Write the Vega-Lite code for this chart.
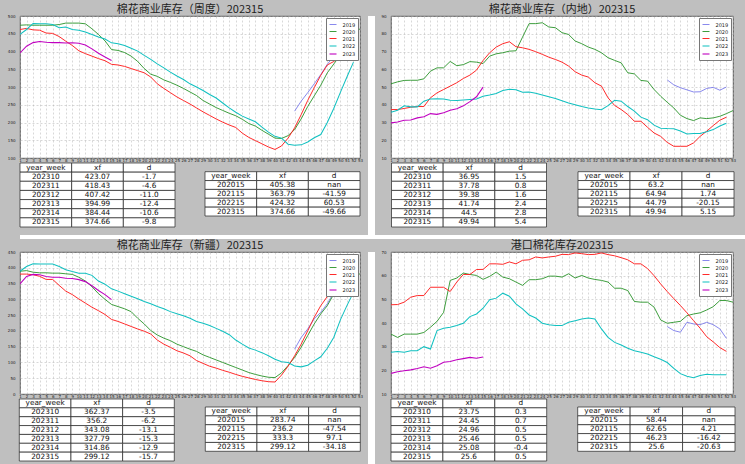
{
"$schema": "https://vega.github.io/schema/vega-lite/v6.json",
"background": "#bfbfbf",
"padding": {"left": 6, "top": 3, "right": 0, "bottom": 0},
"spacing": 0,
"resolve": {"scale": {"color": "independent", "strokeWidth": "independent"}, "legend": {"color": "independent", "strokeWidth": "independent"}},
"config": {
  "view": {"stroke": null},
  "font": "DejaVu Sans",
  "legend": {"orient": "top-right", "offset": 2, "fillColor": "white", "strokeColor": "#777", "padding": 2.5, "labelFontSize": 5, "labelFont": "DejaVu Sans", "labelColor": "#222", "symbolType": "stroke", "symbolSize": 49, "rowPadding": -1.5, "labelOffset": 5, "title": null, "cornerRadius": 0},
  "axis": {"labelFont": "DejaVu Sans", "labelFontSize": 4, "labelColor": "#222", "ticks": false, "domain": false, "grid": true, "gridColor": "#b0b0b0", "gridDash": [2, 2], "gridWidth": 0.5, "title": null, "labelOverlap": false, "labelFlush": false, "labelBound": false},
  "axisX": {"labelPadding": 0.5, "labelAngle": 0},
  "axisY": {"labelPadding": 5},
  "title": {"font": "Noto Sans CJK SC", "fontSize": 11, "fontWeight": "normal", "color": "#222", "offset": -1, "anchor": "middle", "frame": "group"}
},
"datasets": {
"d1": [
{"s":"2019","w":43,"v":232},{"s":"2019","w":44,"v":260},{"s":"2019","w":45,"v":284},{"s":"2019","w":46,"v":309},{"s":"2019","w":47,"v":335},{"s":"2019","w":48,"v":364},{"s":"2019","w":49,"v":387},{"s":"2019","w":50,"v":405},{"s":"2019","w":51,"v":420},{"s":"2019","w":52,"v":432},
{"s":"2020","w":1,"v":474},{"s":"2020","w":2,"v":475},{"s":"2020","w":3,"v":474},{"s":"2020","w":4,"v":474},{"s":"2020","w":5,"v":474},{"s":"2020","w":6,"v":474},{"s":"2020","w":7,"v":476},{"s":"2020","w":8,"v":480},{"s":"2020","w":9,"v":480},{"s":"2020","w":10,"v":480},{"s":"2020","w":11,"v":478},{"s":"2020","w":12,"v":464},{"s":"2020","w":13,"v":448},{"s":"2020","w":14,"v":430},{"s":"2020","w":15,"v":405.38},{"s":"2020","w":16,"v":403},{"s":"2020","w":17,"v":397},{"s":"2020","w":18,"v":387},{"s":"2020","w":19,"v":372},{"s":"2020","w":20,"v":352},{"s":"2020","w":21,"v":336},{"s":"2020","w":22,"v":330},{"s":"2020","w":23,"v":320},{"s":"2020","w":24,"v":313},{"s":"2020","w":25,"v":305},{"s":"2020","w":26,"v":296},{"s":"2020","w":27,"v":286},{"s":"2020","w":28,"v":276},{"s":"2020","w":29,"v":262},{"s":"2020","w":30,"v":252},{"s":"2020","w":31,"v":242},{"s":"2020","w":32,"v":234},{"s":"2020","w":33,"v":226},{"s":"2020","w":34,"v":219},{"s":"2020","w":35,"v":209},{"s":"2020","w":36,"v":197},{"s":"2020","w":37,"v":190},{"s":"2020","w":38,"v":178},{"s":"2020","w":39,"v":167},{"s":"2020","w":40,"v":156},{"s":"2020","w":41,"v":155},{"s":"2020","w":42,"v":163},{"s":"2020","w":43,"v":180},{"s":"2020","w":44,"v":210},{"s":"2020","w":45,"v":245},{"s":"2020","w":46,"v":275},{"s":"2020","w":47,"v":305},{"s":"2020","w":48,"v":340},{"s":"2020","w":49,"v":365},{"s":"2020","w":50,"v":390},{"s":"2020","w":51,"v":420},{"s":"2020","w":52,"v":448},{"s":"2020","w":53,"v":464},
{"s":"2021","w":1,"v":462},{"s":"2021","w":2,"v":465},{"s":"2021","w":3,"v":461},{"s":"2021","w":4,"v":460},{"s":"2021","w":5,"v":452},{"s":"2021","w":6,"v":451},{"s":"2021","w":7,"v":442},{"s":"2021","w":8,"v":429},{"s":"2021","w":9,"v":417},{"s":"2021","w":10,"v":402},{"s":"2021","w":11,"v":394},{"s":"2021","w":12,"v":387},{"s":"2021","w":13,"v":380},{"s":"2021","w":14,"v":374},{"s":"2021","w":15,"v":363.79},{"s":"2021","w":16,"v":362},{"s":"2021","w":17,"v":358},{"s":"2021","w":18,"v":352},{"s":"2021","w":19,"v":346},{"s":"2021","w":20,"v":340},{"s":"2021","w":21,"v":328},{"s":"2021","w":22,"v":309},{"s":"2021","w":23,"v":296},{"s":"2021","w":24,"v":284},{"s":"2021","w":25,"v":272},{"s":"2021","w":26,"v":262},{"s":"2021","w":27,"v":252},{"s":"2021","w":28,"v":241},{"s":"2021","w":29,"v":230},{"s":"2021","w":30,"v":220},{"s":"2021","w":31,"v":210},{"s":"2021","w":32,"v":201},{"s":"2021","w":33,"v":193},{"s":"2021","w":34,"v":186},{"s":"2021","w":35,"v":170},{"s":"2021","w":36,"v":158},{"s":"2021","w":37,"v":149},{"s":"2021","w":38,"v":140},{"s":"2021","w":39,"v":131},{"s":"2021","w":40,"v":124},{"s":"2021","w":41,"v":134},{"s":"2021","w":42,"v":156},{"s":"2021","w":43,"v":185},{"s":"2021","w":44,"v":222},{"s":"2021","w":45,"v":262},{"s":"2021","w":46,"v":298},{"s":"2021","w":47,"v":333},{"s":"2021","w":48,"v":362},{"s":"2021","w":49,"v":372},{"s":"2021","w":50,"v":390},{"s":"2021","w":51,"v":420},{"s":"2021","w":52,"v":445},
{"s":"2022","w":1,"v":448},{"s":"2022","w":2,"v":462},{"s":"2022","w":3,"v":479},{"s":"2022","w":4,"v":478},{"s":"2022","w":5,"v":478},{"s":"2022","w":6,"v":476},{"s":"2022","w":7,"v":467},{"s":"2022","w":8,"v":469},{"s":"2022","w":9,"v":462},{"s":"2022","w":10,"v":460},{"s":"2022","w":11,"v":455},{"s":"2022","w":12,"v":448},{"s":"2022","w":13,"v":441},{"s":"2022","w":14,"v":435},{"s":"2022","w":15,"v":424.32},{"s":"2022","w":16,"v":422},{"s":"2022","w":17,"v":417},{"s":"2022","w":18,"v":409},{"s":"2022","w":19,"v":401},{"s":"2022","w":20,"v":389},{"s":"2022","w":21,"v":378},{"s":"2022","w":22,"v":365},{"s":"2022","w":23,"v":354},{"s":"2022","w":24,"v":342},{"s":"2022","w":25,"v":331},{"s":"2022","w":26,"v":321},{"s":"2022","w":27,"v":309},{"s":"2022","w":28,"v":300},{"s":"2022","w":29,"v":290},{"s":"2022","w":30,"v":279},{"s":"2022","w":31,"v":269},{"s":"2022","w":32,"v":255},{"s":"2022","w":33,"v":241},{"s":"2022","w":34,"v":229},{"s":"2022","w":35,"v":218},{"s":"2022","w":36,"v":210},{"s":"2022","w":37,"v":202},{"s":"2022","w":38,"v":187},{"s":"2022","w":39,"v":173},{"s":"2022","w":40,"v":161},{"s":"2022","w":41,"v":156},{"s":"2022","w":42,"v":139},{"s":"2022","w":43,"v":136},{"s":"2022","w":44,"v":137},{"s":"2022","w":45,"v":145},{"s":"2022","w":46,"v":157},{"s":"2022","w":47,"v":166},{"s":"2022","w":48,"v":200},{"s":"2022","w":49,"v":240},{"s":"2022","w":50,"v":285},{"s":"2022","w":51,"v":328},{"s":"2022","w":52,"v":370},
{"s":"2023","w":1,"v":396},{"s":"2023","w":2,"v":415},{"s":"2023","w":3,"v":425},{"s":"2023","w":4,"v":428},{"s":"2023","w":5,"v":426},{"s":"2023","w":6,"v":425},{"s":"2023","w":7,"v":425},{"s":"2023","w":8,"v":424},{"s":"2023","w":9,"v":424.77},{"s":"2023","w":10,"v":423.07},{"s":"2023","w":11,"v":418.43},{"s":"2023","w":12,"v":407.42},{"s":"2023","w":13,"v":394.99},{"s":"2023","w":14,"v":384.44},{"s":"2023","w":15,"v":374.66}
],
"d2": [
{"s":"2019","w":43,"v":54},{"s":"2019","w":44,"v":51.2},{"s":"2019","w":45,"v":49.6},{"s":"2019","w":46,"v":48.4},{"s":"2019","w":47,"v":47.2},{"s":"2019","w":48,"v":47.3},{"s":"2019","w":49,"v":49.2},{"s":"2019","w":50,"v":49.8},{"s":"2019","w":51,"v":48.2},{"s":"2019","w":52,"v":50},
{"s":"2020","w":1,"v":51.8},{"s":"2020","w":2,"v":52.9},{"s":"2020","w":3,"v":53.7},{"s":"2020","w":4,"v":53.8},{"s":"2020","w":5,"v":53.8},{"s":"2020","w":6,"v":54.6},{"s":"2020","w":7,"v":58.9},{"s":"2020","w":8,"v":60.8},{"s":"2020","w":9,"v":60.8},{"s":"2020","w":10,"v":64.4},{"s":"2020","w":11,"v":62},{"s":"2020","w":12,"v":62.6},{"s":"2020","w":13,"v":64.3},{"s":"2020","w":14,"v":64},{"s":"2020","w":15,"v":63.2},{"s":"2020","w":16,"v":67.4},{"s":"2020","w":17,"v":68.7},{"s":"2020","w":18,"v":69.3},{"s":"2020","w":19,"v":70.2},{"s":"2020","w":20,"v":70.4},{"s":"2020","w":21,"v":78.1},{"s":"2020","w":22,"v":85.7},{"s":"2020","w":23,"v":85.7},{"s":"2020","w":24,"v":86.2},{"s":"2020","w":25,"v":83.8},{"s":"2020","w":26,"v":83.4},{"s":"2020","w":27,"v":80.6},{"s":"2020","w":28,"v":79.6},{"s":"2020","w":29,"v":75.9},{"s":"2020","w":30,"v":74.4},{"s":"2020","w":31,"v":72.5},{"s":"2020","w":32,"v":71.2},{"s":"2020","w":33,"v":69.3},{"s":"2020","w":34,"v":66.5},{"s":"2020","w":35,"v":65},{"s":"2020","w":36,"v":63.6},{"s":"2020","w":37,"v":58},{"s":"2020","w":38,"v":57.4},{"s":"2020","w":39,"v":53.7},{"s":"2020","w":40,"v":53.3},{"s":"2020","w":41,"v":48.6},{"s":"2020","w":42,"v":44.8},{"s":"2020","w":43,"v":41.4},{"s":"2020","w":44,"v":38.2},{"s":"2020","w":45,"v":34.1},{"s":"2020","w":46,"v":32.2},{"s":"2020","w":47,"v":31.1},{"s":"2020","w":48,"v":32.6},{"s":"2020","w":49,"v":32.2},{"s":"2020","w":50,"v":32.6},{"s":"2020","w":51,"v":33.5},{"s":"2020","w":52,"v":35},{"s":"2020","w":53,"v":36.7},
{"s":"2021","w":1,"v":37.3},{"s":"2021","w":2,"v":37.3},{"s":"2021","w":3,"v":37.9},{"s":"2021","w":4,"v":38.6},{"s":"2021","w":5,"v":39},{"s":"2021","w":6,"v":39},{"s":"2021","w":7,"v":43.9},{"s":"2021","w":8,"v":46.7},{"s":"2021","w":9,"v":48.6},{"s":"2021","w":10,"v":50.5},{"s":"2021","w":11,"v":52.4},{"s":"2021","w":12,"v":54.8},{"s":"2021","w":13,"v":56.7},{"s":"2021","w":14,"v":59.5},{"s":"2021","w":15,"v":64.94},{"s":"2021","w":16,"v":69.3},{"s":"2021","w":17,"v":72.5},{"s":"2021","w":18,"v":74.4},{"s":"2021","w":19,"v":75.5},{"s":"2021","w":20,"v":72.7},{"s":"2021","w":21,"v":72.1},{"s":"2021","w":22,"v":71.2},{"s":"2021","w":23,"v":69.9},{"s":"2021","w":24,"v":68.4},{"s":"2021","w":25,"v":66.8},{"s":"2021","w":26,"v":65.5},{"s":"2021","w":27,"v":64},{"s":"2021","w":28,"v":61.8},{"s":"2021","w":29,"v":58.6},{"s":"2021","w":30,"v":56.7},{"s":"2021","w":31,"v":55.6},{"s":"2021","w":32,"v":52.4},{"s":"2021","w":33,"v":50.5},{"s":"2021","w":34,"v":43.9},{"s":"2021","w":35,"v":39.6},{"s":"2021","w":36,"v":37.3},{"s":"2021","w":37,"v":34.5},{"s":"2021","w":38,"v":30.7},{"s":"2021","w":39,"v":30.7},{"s":"2021","w":40,"v":27.3},{"s":"2021","w":41,"v":24.1},{"s":"2021","w":42,"v":22.2},{"s":"2021","w":43,"v":18.8},{"s":"2021","w":44,"v":16.6},{"s":"2021","w":45,"v":16.6},{"s":"2021","w":46,"v":16.6},{"s":"2021","w":47,"v":18.5},{"s":"2021","w":48,"v":22.2},{"s":"2021","w":49,"v":25.1},{"s":"2021","w":50,"v":28.3},{"s":"2021","w":51,"v":31.3},{"s":"2021","w":52,"v":33},
{"s":"2022","w":1,"v":35.8},{"s":"2022","w":2,"v":36.9},{"s":"2022","w":3,"v":39.4},{"s":"2022","w":4,"v":38.8},{"s":"2022","w":5,"v":38.8},{"s":"2022","w":6,"v":42},{"s":"2022","w":7,"v":43.3},{"s":"2022","w":8,"v":43.4},{"s":"2022","w":9,"v":43.3},{"s":"2022","w":10,"v":42.5},{"s":"2022","w":11,"v":42.4},{"s":"2022","w":12,"v":42.7},{"s":"2022","w":13,"v":43},{"s":"2022","w":14,"v":43.2},{"s":"2022","w":15,"v":44.79},{"s":"2022","w":16,"v":45.5},{"s":"2022","w":17,"v":46.3},{"s":"2022","w":18,"v":48},{"s":"2022","w":19,"v":48.7},{"s":"2022","w":20,"v":48.5},{"s":"2022","w":21,"v":47},{"s":"2022","w":22,"v":47.2},{"s":"2022","w":23,"v":46.5},{"s":"2022","w":24,"v":45.5},{"s":"2022","w":25,"v":44.5},{"s":"2022","w":26,"v":43.5},{"s":"2022","w":27,"v":42.3},{"s":"2022","w":28,"v":41},{"s":"2022","w":29,"v":40},{"s":"2022","w":30,"v":39},{"s":"2022","w":31,"v":38.2},{"s":"2022","w":32,"v":37.6},{"s":"2022","w":33,"v":37.2},{"s":"2022","w":34,"v":39.5},{"s":"2022","w":35,"v":42.5},{"s":"2022","w":36,"v":42},{"s":"2022","w":37,"v":39},{"s":"2022","w":38,"v":36.4},{"s":"2022","w":39,"v":33},{"s":"2022","w":40,"v":31.6},{"s":"2022","w":41,"v":28.5},{"s":"2022","w":42,"v":26.8},{"s":"2022","w":43,"v":26.6},{"s":"2022","w":44,"v":26.5},{"s":"2022","w":45,"v":25.2},{"s":"2022","w":46,"v":23.5},{"s":"2022","w":47,"v":23.8},{"s":"2022","w":48,"v":23.8},{"s":"2022","w":49,"v":24.8},{"s":"2022","w":50,"v":26},{"s":"2022","w":51,"v":28},{"s":"2022","w":52,"v":29.6},
{"s":"2023","w":1,"v":29.8},{"s":"2023","w":2,"v":30.3},{"s":"2023","w":3,"v":31.3},{"s":"2023","w":4,"v":31.4},{"s":"2023","w":5,"v":32.6},{"s":"2023","w":6,"v":33.2},{"s":"2023","w":7,"v":35},{"s":"2023","w":8,"v":34.6},{"s":"2023","w":9,"v":35.45},{"s":"2023","w":10,"v":36.95},{"s":"2023","w":11,"v":37.78},{"s":"2023","w":12,"v":39.38},{"s":"2023","w":13,"v":41.74},{"s":"2023","w":14,"v":44.5},{"s":"2023","w":15,"v":49.94}
],
"d3": [
{"s":"2019","w":43,"v":142},{"s":"2019","w":44,"v":179},{"s":"2019","w":45,"v":206},{"s":"2019","w":46,"v":238},{"s":"2019","w":47,"v":259},{"s":"2019","w":48,"v":286},{"s":"2019","w":49,"v":322},{"s":"2019","w":50,"v":345},{"s":"2019","w":51,"v":360},{"s":"2019","w":52,"v":375},
{"s":"2020","w":1,"v":389},{"s":"2020","w":2,"v":391},{"s":"2020","w":3,"v":386},{"s":"2020","w":4,"v":384},{"s":"2020","w":5,"v":384},{"s":"2020","w":6,"v":383},{"s":"2020","w":7,"v":383},{"s":"2020","w":8,"v":381},{"s":"2020","w":9,"v":379},{"s":"2020","w":10,"v":370},{"s":"2020","w":11,"v":358},{"s":"2020","w":12,"v":340},{"s":"2020","w":13,"v":318},{"s":"2020","w":14,"v":300},{"s":"2020","w":15,"v":283.74},{"s":"2020","w":16,"v":277},{"s":"2020","w":17,"v":270},{"s":"2020","w":18,"v":261},{"s":"2020","w":19,"v":240},{"s":"2020","w":20,"v":222},{"s":"2020","w":21,"v":201},{"s":"2020","w":22,"v":187},{"s":"2020","w":23,"v":177},{"s":"2020","w":24,"v":169},{"s":"2020","w":25,"v":158},{"s":"2020","w":26,"v":150},{"s":"2020","w":27,"v":142},{"s":"2020","w":28,"v":135},{"s":"2020","w":29,"v":124},{"s":"2020","w":30,"v":116},{"s":"2020","w":31,"v":108},{"s":"2020","w":32,"v":100},{"s":"2020","w":33,"v":92},{"s":"2020","w":34,"v":84},{"s":"2020","w":35,"v":76},{"s":"2020","w":36,"v":68},{"s":"2020","w":37,"v":62},{"s":"2020","w":38,"v":57},{"s":"2020","w":39,"v":53},{"s":"2020","w":40,"v":52},{"s":"2020","w":41,"v":67},{"s":"2020","w":42,"v":90},{"s":"2020","w":43,"v":116},{"s":"2020","w":44,"v":148},{"s":"2020","w":45,"v":185},{"s":"2020","w":46,"v":222},{"s":"2020","w":47,"v":254},{"s":"2020","w":48,"v":280},{"s":"2020","w":49,"v":317},{"s":"2020","w":50,"v":338},{"s":"2020","w":51,"v":355},{"s":"2020","w":52,"v":370},{"s":"2020","w":53,"v":381},
{"s":"2021","w":1,"v":380},{"s":"2021","w":2,"v":380},{"s":"2021","w":3,"v":378},{"s":"2021","w":4,"v":373},{"s":"2021","w":5,"v":363},{"s":"2021","w":6,"v":363},{"s":"2021","w":7,"v":344},{"s":"2021","w":8,"v":326},{"s":"2021","w":9,"v":315},{"s":"2021","w":10,"v":301},{"s":"2021","w":11,"v":288},{"s":"2021","w":12,"v":275},{"s":"2021","w":13,"v":264},{"s":"2021","w":14,"v":252},{"s":"2021","w":15,"v":236.2},{"s":"2021","w":16,"v":230},{"s":"2021","w":17,"v":222},{"s":"2021","w":18,"v":214},{"s":"2021","w":19,"v":206},{"s":"2021","w":20,"v":199},{"s":"2021","w":21,"v":190},{"s":"2021","w":22,"v":171},{"s":"2021","w":23,"v":158},{"s":"2021","w":24,"v":148},{"s":"2021","w":25,"v":137},{"s":"2021","w":26,"v":130},{"s":"2021","w":27,"v":121},{"s":"2021","w":28,"v":106},{"s":"2021","w":29,"v":97},{"s":"2021","w":30,"v":88},{"s":"2021","w":31,"v":82},{"s":"2021","w":32,"v":75},{"s":"2021","w":33,"v":69},{"s":"2021","w":34,"v":62},{"s":"2021","w":35,"v":56},{"s":"2021","w":36,"v":51},{"s":"2021","w":37,"v":46},{"s":"2021","w":38,"v":42},{"s":"2021","w":39,"v":39},{"s":"2021","w":40,"v":38},{"s":"2021","w":41,"v":60},{"s":"2021","w":42,"v":88},{"s":"2021","w":43,"v":121},{"s":"2021","w":44,"v":158},{"s":"2021","w":45,"v":200},{"s":"2021","w":46,"v":243},{"s":"2021","w":47,"v":280},{"s":"2021","w":48,"v":309},{"s":"2021","w":49,"v":318},{"s":"2021","w":50,"v":335},{"s":"2021","w":51,"v":355},{"s":"2021","w":52,"v":372},
{"s":"2022","w":1,"v":389},{"s":"2022","w":2,"v":404},{"s":"2022","w":3,"v":413},{"s":"2022","w":4,"v":412},{"s":"2022","w":5,"v":412},{"s":"2022","w":6,"v":412},{"s":"2022","w":7,"v":404},{"s":"2022","w":8,"v":394},{"s":"2022","w":9,"v":388},{"s":"2022","w":10,"v":383},{"s":"2022","w":11,"v":383},{"s":"2022","w":12,"v":376},{"s":"2022","w":13,"v":358},{"s":"2022","w":14,"v":348},{"s":"2022","w":15,"v":333.3},{"s":"2022","w":16,"v":326},{"s":"2022","w":17,"v":318},{"s":"2022","w":18,"v":310},{"s":"2022","w":19,"v":302},{"s":"2022","w":20,"v":293},{"s":"2022","w":21,"v":286},{"s":"2022","w":22,"v":277},{"s":"2022","w":23,"v":270},{"s":"2022","w":24,"v":261},{"s":"2022","w":25,"v":254},{"s":"2022","w":26,"v":248},{"s":"2022","w":27,"v":240},{"s":"2022","w":28,"v":230},{"s":"2022","w":29,"v":224},{"s":"2022","w":30,"v":217},{"s":"2022","w":31,"v":208},{"s":"2022","w":32,"v":199},{"s":"2022","w":33,"v":188},{"s":"2022","w":34,"v":171},{"s":"2022","w":35,"v":158},{"s":"2022","w":36,"v":146},{"s":"2022","w":37,"v":139},{"s":"2022","w":38,"v":131},{"s":"2022","w":39,"v":121},{"s":"2022","w":40,"v":110},{"s":"2022","w":41,"v":102},{"s":"2022","w":42,"v":100},{"s":"2022","w":43,"v":89},{"s":"2022","w":44,"v":86},{"s":"2022","w":45,"v":91},{"s":"2022","w":46,"v":105},{"s":"2022","w":47,"v":118},{"s":"2022","w":48,"v":145},{"s":"2022","w":49,"v":180},{"s":"2022","w":50,"v":235},{"s":"2022","w":51,"v":280},{"s":"2022","w":52,"v":322},
{"s":"2023","w":1,"v":349},{"s":"2023","w":2,"v":372.6},{"s":"2023","w":3,"v":379},{"s":"2023","w":4,"v":378},{"s":"2023","w":5,"v":372.6},{"s":"2023","w":6,"v":370},{"s":"2023","w":7,"v":370},{"s":"2023","w":8,"v":367},{"s":"2023","w":9,"v":365.9},{"s":"2023","w":10,"v":362.37},{"s":"2023","w":11,"v":356.2},{"s":"2023","w":12,"v":343.08},{"s":"2023","w":13,"v":327.79},{"s":"2023","w":14,"v":314.86},{"s":"2023","w":15,"v":299.12}
],
"d4": [
{"s":"2019","w":43,"v":38.5},{"s":"2019","w":44,"v":36.8},{"s":"2019","w":45,"v":36.1},{"s":"2019","w":46,"v":40.3},{"s":"2019","w":47,"v":39.6},{"s":"2019","w":48,"v":39.3},{"s":"2019","w":49,"v":40.3},{"s":"2019","w":50,"v":39.3},{"s":"2019","w":51,"v":37.5},{"s":"2019","w":52,"v":33.5},
{"s":"2020","w":1,"v":35.3},{"s":"2020","w":2,"v":33.9},{"s":"2020","w":3,"v":35.3},{"s":"2020","w":4,"v":35.3},{"s":"2020","w":5,"v":35.3},{"s":"2020","w":6,"v":36},{"s":"2020","w":7,"v":38.2},{"s":"2020","w":8,"v":40.7},{"s":"2020","w":9,"v":44.5},{"s":"2020","w":10,"v":58},{"s":"2020","w":11,"v":59},{"s":"2020","w":12,"v":61.1},{"s":"2020","w":13,"v":60.5},{"s":"2020","w":14,"v":60.1},{"s":"2020","w":15,"v":58.44},{"s":"2020","w":16,"v":59.7},{"s":"2020","w":17,"v":61.5},{"s":"2020","w":18,"v":59.4},{"s":"2020","w":19,"v":58.7},{"s":"2020","w":20,"v":57.3},{"s":"2020","w":21,"v":55.9},{"s":"2020","w":22,"v":58.3},{"s":"2020","w":23,"v":58.3},{"s":"2020","w":24,"v":58.7},{"s":"2020","w":25,"v":59.8},{"s":"2020","w":26,"v":59.8},{"s":"2020","w":27,"v":59.4},{"s":"2020","w":28,"v":60.8},{"s":"2020","w":29,"v":59},{"s":"2020","w":30,"v":60.1},{"s":"2020","w":31,"v":59},{"s":"2020","w":32,"v":58.4},{"s":"2020","w":33,"v":58},{"s":"2020","w":34,"v":57.3},{"s":"2020","w":35,"v":54.7},{"s":"2020","w":36,"v":54.7},{"s":"2020","w":37,"v":53.7},{"s":"2020","w":38,"v":49.1},{"s":"2020","w":39,"v":48.8},{"s":"2020","w":40,"v":48.8},{"s":"2020","w":41,"v":46.7},{"s":"2020","w":42,"v":41.3},{"s":"2020","w":43,"v":39.9},{"s":"2020","w":44,"v":40.3},{"s":"2020","w":45,"v":40.7},{"s":"2020","w":46,"v":43.1},{"s":"2020","w":47,"v":43.8},{"s":"2020","w":48,"v":44.3},{"s":"2020","w":49,"v":45.5},{"s":"2020","w":50,"v":46.9},{"s":"2020","w":51,"v":49.5},{"s":"2020","w":52,"v":49.5},{"s":"2020","w":53,"v":48.8},
{"s":"2021","w":1,"v":47.7},{"s":"2021","w":2,"v":47.8},{"s":"2021","w":3,"v":48.8},{"s":"2021","w":4,"v":50.9},{"s":"2021","w":5,"v":51.6},{"s":"2021","w":6,"v":51.6},{"s":"2021","w":7,"v":55.1},{"s":"2021","w":8,"v":55.1},{"s":"2021","w":9,"v":55.1},{"s":"2021","w":10,"v":53.3},{"s":"2021","w":11,"v":57.3},{"s":"2021","w":12,"v":60.5},{"s":"2021","w":13,"v":60.5},{"s":"2021","w":14,"v":62.6},{"s":"2021","w":15,"v":62.65},{"s":"2021","w":16,"v":65},{"s":"2021","w":17,"v":65},{"s":"2021","w":18,"v":64.8},{"s":"2021","w":19,"v":65.8},{"s":"2021","w":20,"v":65},{"s":"2021","w":21,"v":66.5},{"s":"2021","w":22,"v":66.7},{"s":"2021","w":23,"v":67.9},{"s":"2021","w":24,"v":67.5},{"s":"2021","w":25,"v":67.9},{"s":"2021","w":26,"v":68.2},{"s":"2021","w":27,"v":69},{"s":"2021","w":28,"v":68.9},{"s":"2021","w":29,"v":69.6},{"s":"2021","w":30,"v":69.3},{"s":"2021","w":31,"v":68.9},{"s":"2021","w":32,"v":69},{"s":"2021","w":33,"v":69.6},{"s":"2021","w":34,"v":68.9},{"s":"2021","w":35,"v":68.4},{"s":"2021","w":36,"v":67.6},{"s":"2021","w":37,"v":66.7},{"s":"2021","w":38,"v":65},{"s":"2021","w":39,"v":65},{"s":"2021","w":40,"v":63},{"s":"2021","w":41,"v":60},{"s":"2021","w":42,"v":56.5},{"s":"2021","w":43,"v":53.3},{"s":"2021","w":44,"v":50.3},{"s":"2021","w":45,"v":47.4},{"s":"2021","w":46,"v":44.3},{"s":"2021","w":47,"v":41},{"s":"2021","w":48,"v":37.8},{"s":"2021","w":49,"v":34.2},{"s":"2021","w":50,"v":32},{"s":"2021","w":51,"v":29.6},{"s":"2021","w":52,"v":28},
{"s":"2022","w":1,"v":27.6},{"s":"2022","w":2,"v":28},{"s":"2022","w":3,"v":27.6},{"s":"2022","w":4,"v":28.3},{"s":"2022","w":5,"v":28.3},{"s":"2022","w":6,"v":30},{"s":"2022","w":7,"v":29},{"s":"2022","w":8,"v":36.8},{"s":"2022","w":9,"v":37.8},{"s":"2022","w":10,"v":38.2},{"s":"2022","w":11,"v":38.9},{"s":"2022","w":12,"v":39.9},{"s":"2022","w":13,"v":42.7},{"s":"2022","w":14,"v":43.8},{"s":"2022","w":15,"v":46.23},{"s":"2022","w":16,"v":49.8},{"s":"2022","w":17,"v":50.5},{"s":"2022","w":18,"v":52.6},{"s":"2022","w":19,"v":51.3},{"s":"2022","w":20,"v":48.1},{"s":"2022","w":21,"v":46},{"s":"2022","w":22,"v":43.4},{"s":"2022","w":23,"v":42.1},{"s":"2022","w":24,"v":39.9},{"s":"2022","w":25,"v":39.3},{"s":"2022","w":26,"v":38.9},{"s":"2022","w":27,"v":38.9},{"s":"2022","w":28,"v":40.3},{"s":"2022","w":29,"v":41},{"s":"2022","w":30,"v":41.7},{"s":"2022","w":31,"v":42.1},{"s":"2022","w":32,"v":41.7},{"s":"2022","w":33,"v":37.5},{"s":"2022","w":34,"v":33.9},{"s":"2022","w":35,"v":31.8},{"s":"2022","w":36,"v":30.7},{"s":"2022","w":37,"v":29.3},{"s":"2022","w":38,"v":28.3},{"s":"2022","w":39,"v":27.6},{"s":"2022","w":40,"v":26.9},{"s":"2022","w":41,"v":25.7},{"s":"2022","w":42,"v":24.7},{"s":"2022","w":43,"v":23.3},{"s":"2022","w":44,"v":20.8},{"s":"2022","w":45,"v":18.6},{"s":"2022","w":46,"v":17.5},{"s":"2022","w":47,"v":16.9},{"s":"2022","w":48,"v":17.8},{"s":"2022","w":49,"v":18.3},{"s":"2022","w":50,"v":18.1},{"s":"2022","w":51,"v":18.1},{"s":"2022","w":52,"v":18.1},
{"s":"2023","w":1,"v":18.7},{"s":"2023","w":2,"v":19.4},{"s":"2023","w":3,"v":19.8},{"s":"2023","w":4,"v":20.2},{"s":"2023","w":5,"v":20.8},{"s":"2023","w":6,"v":21.5},{"s":"2023","w":7,"v":20.9},{"s":"2023","w":8,"v":21.9},{"s":"2023","w":9,"v":23.45},{"s":"2023","w":10,"v":23.75},{"s":"2023","w":11,"v":24.45},{"s":"2023","w":12,"v":24.96},{"s":"2023","w":13,"v":25.46},{"s":"2023","w":14,"v":25.08},{"s":"2023","w":15,"v":25.6}
],
"t1a": [{"yw":"year_week","xf":"xf","d":"d"},{"yw":"202310","xf":"423.07","d":"-1.7"},{"yw":"202311","xf":"418.43","d":"-4.6"},{"yw":"202312","xf":"407.42","d":"-11.0"},{"yw":"202313","xf":"394.99","d":"-12.4"},{"yw":"202314","xf":"384.44","d":"-10.6"},{"yw":"202315","xf":"374.66","d":"-9.8"}],
"t1b": [{"yw":"year_week","xf":"xf","d":"d"},{"yw":"202015","xf":"405.38","d":"nan"},{"yw":"202115","xf":"363.79","d":"-41.59"},{"yw":"202215","xf":"424.32","d":"60.53"},{"yw":"202315","xf":"374.66","d":"-49.66"}],
"t2a": [{"yw":"year_week","xf":"xf","d":"d"},{"yw":"202310","xf":"36.95","d":"1.5"},{"yw":"202311","xf":"37.78","d":"0.8"},{"yw":"202312","xf":"39.38","d":"1.6"},{"yw":"202313","xf":"41.74","d":"2.4"},{"yw":"202314","xf":"44.5","d":"2.8"},{"yw":"202315","xf":"49.94","d":"5.4"}],
"t2b": [{"yw":"year_week","xf":"xf","d":"d"},{"yw":"202015","xf":"63.2","d":"nan"},{"yw":"202115","xf":"64.94","d":"1.74"},{"yw":"202215","xf":"44.79","d":"-20.15"},{"yw":"202315","xf":"49.94","d":"5.15"}],
"t3a": [{"yw":"year_week","xf":"xf","d":"d"},{"yw":"202310","xf":"362.37","d":"-3.5"},{"yw":"202311","xf":"356.2","d":"-6.2"},{"yw":"202312","xf":"343.08","d":"-13.1"},{"yw":"202313","xf":"327.79","d":"-15.3"},{"yw":"202314","xf":"314.86","d":"-12.9"},{"yw":"202315","xf":"299.12","d":"-15.7"}],
"t3b": [{"yw":"year_week","xf":"xf","d":"d"},{"yw":"202015","xf":"283.74","d":"nan"},{"yw":"202115","xf":"236.2","d":"-47.54"},{"yw":"202215","xf":"333.3","d":"97.1"},{"yw":"202315","xf":"299.12","d":"-34.18"}],
"t4a": [{"yw":"year_week","xf":"xf","d":"d"},{"yw":"202310","xf":"23.75","d":"0.3"},{"yw":"202311","xf":"24.45","d":"0.7"},{"yw":"202312","xf":"24.96","d":"0.5"},{"yw":"202313","xf":"25.46","d":"0.5"},{"yw":"202314","xf":"25.08","d":"-0.4"},{"yw":"202315","xf":"25.6","d":"0.5"}],
"t4b": [{"yw":"year_week","xf":"xf","d":"d"},{"yw":"202015","xf":"58.44","d":"nan"},{"yw":"202115","xf":"62.65","d":"4.21"},{"yw":"202215","xf":"46.23","d":"-16.42"},{"yw":"202315","xf":"25.6","d":"-20.63"}]
},
"vconcat": [
{"vconcat": [
{"hconcat": [
{"vconcat": [
{"width": 340, "height": 142, "title": {"text": "棉花商业库存（周度）202315"},
 "view": {"fill": "white", "stroke": "#333", "strokeWidth": 0.8},
 "data": {"name": "d1"}, "mark": {"type": "line", "clip": true},
 "encoding": {
  "x": {"field": "w", "type": "quantitative", "scale": {"domain": [1, 53], "nice": false, "zero": false}, "axis": {"values": [1,2,3,4,5,6,7,8,9,10,11,12,13,14,15,16,17,18,19,20,21,22,23,24,25,26,27,28,29,30,31,32,33,34,35,36,37,38,39,40,41,42,43,44,45,46,47,48,49,50,51,52,53]}},
  "y": {"field": "v", "type": "quantitative", "scale": {"domain": [100, 500], "nice": false, "zero": false}, "axis": {"values": [100,150,200,250,300,350,400,450,500]}},
  "color": {"field": "s", "type": "ordinal", "scale": {"domain": ["2019","2020","2021","2022","2023"], "range": ["#6b6be8","#229022","#ff2020","#10c0c0","#c000c0"]}},
  "strokeWidth": {"field": "s", "type": "ordinal", "scale": {"domain": ["2019","2020","2021","2022","2023"], "range": [0.8, 1.1, 1.5, 2, 3]}}
 }},
{"width": 340, "height": 64, "view": {"stroke": null},
 "layer": [
  {"data": {"name": "t1a"}, "transform": [{"fold": ["yw","xf","d"], "as": ["col","val"]}],
   "encoding": {"x": {"field": "col", "type": "nominal", "scale": {"domain": ["yw","xf","d"], "range": [0, 155], "paddingInner": 0, "paddingOuter": 0}, "axis": null},
                "y": {"field": "yw", "type": "nominal", "scale": {"domain": ["year_week","202310","202311","202312","202313","202314","202315"], "range": [0, 64], "paddingInner": 0, "paddingOuter": 0}, "axis": null}},
   "layer": [{"mark": {"type": "rect", "fill": "white", "stroke": "#222", "strokeWidth": 0.7}},
             {"mark": {"type": "text", "font": "DejaVu Sans", "fontSize": 7.3, "color": "#111"}, "encoding": {"text": {"field": "val"}}}]},
  {"data": {"name": "t1b"}, "transform": [{"fold": ["yw","xf","d"], "as": ["col","val"]}],
   "encoding": {"x": {"field": "col", "type": "nominal", "scale": {"domain": ["yw","xf","d"], "range": [185, 340], "paddingInner": 0, "paddingOuter": 0}, "axis": null},
                "y": {"field": "yw", "type": "nominal", "scale": {"domain": ["year_week","202015","202115","202215","202315"], "range": [8.7, 53], "paddingInner": 0, "paddingOuter": 0}, "axis": null}},
   "layer": [{"mark": {"type": "rect", "fill": "white", "stroke": "#222", "strokeWidth": 0.7}},
             {"mark": {"type": "text", "font": "DejaVu Sans", "fontSize": 7.3, "color": "#111"}, "encoding": {"text": {"field": "val"}}}]}
 ],
 "resolve": {"scale": {"x": "independent", "y": "independent"}}}
], "spacing": 5, "bounds": "flush", "resolve": {"scale": {"color": "independent", "strokeWidth": "independent"}, "legend": {"color": "independent", "strokeWidth": "independent"}}},
{"width": 7, "height": 219, "view": {"fill": "white", "stroke": null}, "data": {"values": [{}]}, "mark": {"type": "rect", "fill": "white", "strokeWidth": 0}, "encoding": {}},
{"vconcat": [
{"width": 342, "height": 142, "title": {"text": "棉花商业库存（内地）202315"},
 "view": {"fill": "white", "stroke": "#333", "strokeWidth": 0.8},
 "data": {"name": "d2"}, "mark": {"type": "line", "clip": true},
 "encoding": {
  "x": {"field": "w", "type": "quantitative", "scale": {"domain": [1, 53], "nice": false, "zero": false}, "axis": {"values": [1,2,3,4,5,6,7,8,9,10,11,12,13,14,15,16,17,18,19,20,21,22,23,24,25,26,27,28,29,30,31,32,33,34,35,36,37,38,39,40,41,42,43,44,45,46,47,48,49,50,51,52,53]}},
  "y": {"field": "v", "type": "quantitative", "scale": {"domain": [10, 90], "nice": false, "zero": false}, "axis": {"values": [10,20,30,40,50,60,70,80,90]}},
  "color": {"field": "s", "type": "ordinal", "scale": {"domain": ["2019","2020","2021","2022","2023"], "range": ["#6b6be8","#229022","#ff2020","#10c0c0","#c000c0"]}},
  "strokeWidth": {"field": "s", "type": "ordinal", "scale": {"domain": ["2019","2020","2021","2022","2023"], "range": [0.8, 1.1, 1.5, 2, 3]}}
 }},
{"width": 342, "height": 64, "view": {"stroke": null},
 "layer": [
  {"data": {"name": "t2a"}, "transform": [{"fold": ["yw","xf","d"], "as": ["col","val"]}],
   "encoding": {"x": {"field": "col", "type": "nominal", "scale": {"domain": ["yw","xf","d"], "range": [0.5, 155.5], "paddingInner": 0, "paddingOuter": 0}, "axis": null},
                "y": {"field": "yw", "type": "nominal", "scale": {"domain": ["year_week","202310","202311","202312","202313","202314","202315"], "range": [0, 64], "paddingInner": 0, "paddingOuter": 0}, "axis": null}},
   "layer": [{"mark": {"type": "rect", "fill": "white", "stroke": "#222", "strokeWidth": 0.7}},
             {"mark": {"type": "text", "font": "DejaVu Sans", "fontSize": 7.3, "color": "#111"}, "encoding": {"text": {"field": "val"}}}]},
  {"data": {"name": "t2b"}, "transform": [{"fold": ["yw","xf","d"], "as": ["col","val"]}],
   "encoding": {"x": {"field": "col", "type": "nominal", "scale": {"domain": ["yw","xf","d"], "range": [187, 343], "paddingInner": 0, "paddingOuter": 0}, "axis": null},
                "y": {"field": "yw", "type": "nominal", "scale": {"domain": ["year_week","202015","202115","202215","202315"], "range": [8.7, 53], "paddingInner": 0, "paddingOuter": 0}, "axis": null}},
   "layer": [{"mark": {"type": "rect", "fill": "white", "stroke": "#222", "strokeWidth": 0.7}},
             {"mark": {"type": "text", "font": "DejaVu Sans", "fontSize": 7.3, "color": "#111"}, "encoding": {"text": {"field": "val"}}}]}
 ],
 "resolve": {"scale": {"x": "independent", "y": "independent"}}}
], "spacing": 5, "bounds": "flush", "resolve": {"scale": {"color": "independent", "strokeWidth": "independent"}, "legend": {"color": "independent", "strokeWidth": "independent"}}}
], "spacing": 5, "resolve": {"scale": {"color": "independent", "strokeWidth": "independent"}, "legend": {"color": "independent", "strokeWidth": "independent"}}},
{"width": 739, "height": 4, "view": {"fill": "white", "stroke": null}, "data": {"values": [{}]}, "mark": {"type": "rect", "fill": "white", "strokeWidth": 0}, "encoding": {}}
], "spacing": 0, "resolve": {"scale": {"color": "independent", "strokeWidth": "independent"}, "legend": {"color": "independent", "strokeWidth": "independent"}}},
{"hconcat": [
{"vconcat": [
{"width": 340, "height": 142, "title": {"text": "棉花商业库存（新疆）202315"},
 "view": {"fill": "white", "stroke": "#333", "strokeWidth": 0.8},
 "data": {"name": "d3"}, "mark": {"type": "line", "clip": true},
 "encoding": {
  "x": {"field": "w", "type": "quantitative", "scale": {"domain": [1, 53], "nice": false, "zero": false}, "axis": {"values": [1,2,3,4,5,6,7,8,9,10,11,12,13,14,15,16,17,18,19,20,21,22,23,24,25,26,27,28,29,30,31,32,33,34,35,36,37,38,39,40,41,42,43,44,45,46,47,48,49,50,51,52,53]}},
  "y": {"field": "v", "type": "quantitative", "scale": {"domain": [0, 450], "nice": false, "zero": false}, "axis": {"values": [0,50,100,150,200,250,300,350,400,450]}},
  "color": {"field": "s", "type": "ordinal", "scale": {"domain": ["2019","2020","2021","2022","2023"], "range": ["#6b6be8","#229022","#ff2020","#10c0c0","#c000c0"]}},
  "strokeWidth": {"field": "s", "type": "ordinal", "scale": {"domain": ["2019","2020","2021","2022","2023"], "range": [0.8, 1.1, 1.5, 2, 3]}}
 }},
{"width": 340, "height": 62, "view": {"stroke": null},
 "layer": [
  {"data": {"name": "t3a"}, "transform": [{"fold": ["yw","xf","d"], "as": ["col","val"]}],
   "encoding": {"x": {"field": "col", "type": "nominal", "scale": {"domain": ["yw","xf","d"], "range": [-0.7, 154.3], "paddingInner": 0, "paddingOuter": 0}, "axis": null},
                "y": {"field": "yw", "type": "nominal", "scale": {"domain": ["year_week","202310","202311","202312","202313","202314","202315"], "range": [0, 62], "paddingInner": 0, "paddingOuter": 0}, "axis": null}},
   "layer": [{"mark": {"type": "rect", "fill": "white", "stroke": "#222", "strokeWidth": 0.7}},
             {"mark": {"type": "text", "font": "DejaVu Sans", "fontSize": 7.3, "color": "#111"}, "encoding": {"text": {"field": "val"}}}]},
  {"data": {"name": "t3b"}, "transform": [{"fold": ["yw","xf","d"], "as": ["col","val"]}],
   "encoding": {"x": {"field": "col", "type": "nominal", "scale": {"domain": ["yw","xf","d"], "range": [185.3, 340.3], "paddingInner": 0, "paddingOuter": 0}, "axis": null},
                "y": {"field": "yw", "type": "nominal", "scale": {"domain": ["year_week","202015","202115","202215","202315"], "range": [8, 52.3], "paddingInner": 0, "paddingOuter": 0}, "axis": null}},
   "layer": [{"mark": {"type": "rect", "fill": "white", "stroke": "#222", "strokeWidth": 0.7}},
             {"mark": {"type": "text", "font": "DejaVu Sans", "fontSize": 7.3, "color": "#111"}, "encoding": {"text": {"field": "val"}}}]}
 ],
 "resolve": {"scale": {"x": "independent", "y": "independent"}}}
], "spacing": 5, "bounds": "flush", "resolve": {"scale": {"color": "independent", "strokeWidth": "independent"}, "legend": {"color": "independent", "strokeWidth": "independent"}}},
{"width": 7, "height": 214, "view": {"fill": "white", "stroke": null}, "data": {"values": [{}]}, "mark": {"type": "rect", "fill": "white", "strokeWidth": 0}, "encoding": {}},
{"vconcat": [
{"width": 342, "height": 142, "title": {"text": "港口棉花库存202315"},
 "view": {"fill": "white", "stroke": "#333", "strokeWidth": 0.8},
 "data": {"name": "d4"}, "mark": {"type": "line", "clip": true},
 "encoding": {
  "x": {"field": "w", "type": "quantitative", "scale": {"domain": [1, 53], "nice": false, "zero": false}, "axis": {"values": [1,2,3,4,5,6,7,8,9,10,11,12,13,14,15,16,17,18,19,20,21,22,23,24,25,26,27,28,29,30,31,32,33,34,35,36,37,38,39,40,41,42,43,44,45,46,47,48,49,50,51,52,53]}},
  "y": {"field": "v", "type": "quantitative", "scale": {"domain": [10, 70], "nice": false, "zero": false}, "axis": {"values": [10,20,30,40,50,60,70]}},
  "color": {"field": "s", "type": "ordinal", "scale": {"domain": ["2019","2020","2021","2022","2023"], "range": ["#6b6be8","#229022","#ff2020","#10c0c0","#c000c0"]}},
  "strokeWidth": {"field": "s", "type": "ordinal", "scale": {"domain": ["2019","2020","2021","2022","2023"], "range": [0.8, 1.1, 1.5, 2, 3]}}
 }},
{"width": 342, "height": 62, "view": {"stroke": null},
 "layer": [
  {"data": {"name": "t4a"}, "transform": [{"fold": ["yw","xf","d"], "as": ["col","val"]}],
   "encoding": {"x": {"field": "col", "type": "nominal", "scale": {"domain": ["yw","xf","d"], "range": [0, 155.7], "paddingInner": 0, "paddingOuter": 0}, "axis": null},
                "y": {"field": "yw", "type": "nominal", "scale": {"domain": ["year_week","202310","202311","202312","202313","202314","202315"], "range": [0, 62], "paddingInner": 0, "paddingOuter": 0}, "axis": null}},
   "layer": [{"mark": {"type": "rect", "fill": "white", "stroke": "#222", "strokeWidth": 0.7}},
             {"mark": {"type": "text", "font": "DejaVu Sans", "fontSize": 7.3, "color": "#111"}, "encoding": {"text": {"field": "val"}}}]},
  {"data": {"name": "t4b"}, "transform": [{"fold": ["yw","xf","d"], "as": ["col","val"]}],
   "encoding": {"x": {"field": "col", "type": "nominal", "scale": {"domain": ["yw","xf","d"], "range": [186.7, 344], "paddingInner": 0, "paddingOuter": 0}, "axis": null},
                "y": {"field": "yw", "type": "nominal", "scale": {"domain": ["year_week","202015","202115","202215","202315"], "range": [8, 52.3], "paddingInner": 0, "paddingOuter": 0}, "axis": null}},
   "layer": [{"mark": {"type": "rect", "fill": "white", "stroke": "#222", "strokeWidth": 0.7}},
             {"mark": {"type": "text", "font": "DejaVu Sans", "fontSize": 7.3, "color": "#111"}, "encoding": {"text": {"field": "val"}}}]}
 ],
 "resolve": {"scale": {"x": "independent", "y": "independent"}}}
], "spacing": 5, "bounds": "flush", "resolve": {"scale": {"color": "independent", "strokeWidth": "independent"}, "legend": {"color": "independent", "strokeWidth": "independent"}}}
], "spacing": 5, "resolve": {"scale": {"color": "independent", "strokeWidth": "independent"}, "legend": {"color": "independent", "strokeWidth": "independent"}}}
]
}
